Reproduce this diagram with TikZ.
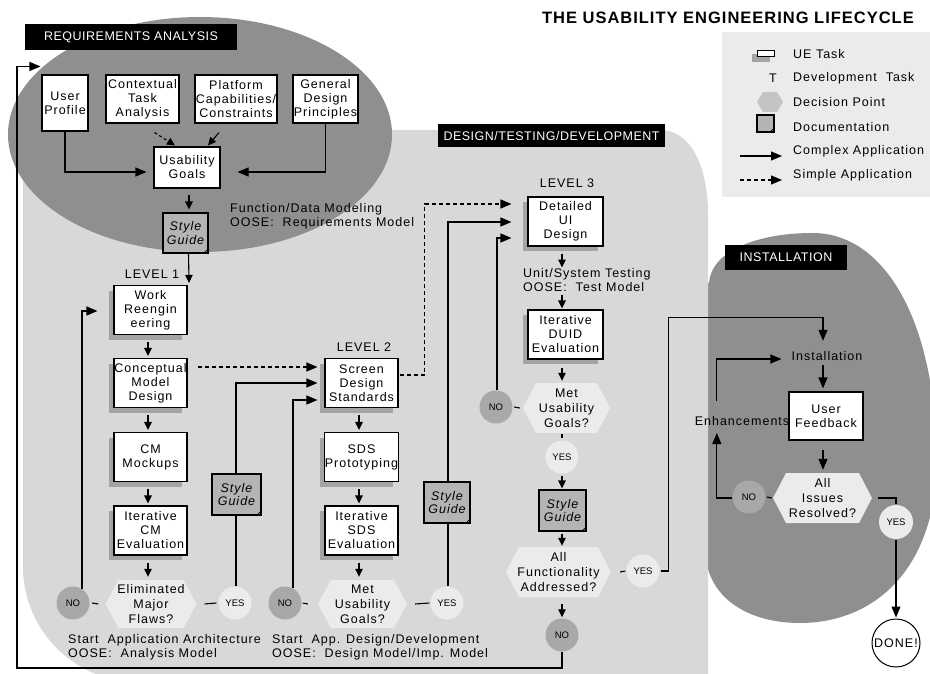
\documentclass[tikz,border=0pt]{standalone}
\usepackage{fontspec}
\setmainfont{Liberation Sans}
\newfontfamily\uefont[LetterSpace=8]{Liberation Sans}
\newfontfamily\headfont[LetterSpace=4]{Liberation Sans}
\newfontfamily\titlefont[LetterSpace=6]{Liberation Sans}
\usetikzlibrary{arrows.meta,calc}

\definecolor{regiondark}{HTML}{8F8F8F}
\definecolor{regionlight}{HTML}{D8D8D8}
\definecolor{hexfill}{HTML}{EBEBEB}
\definecolor{hexkey}{HTML}{C4C4C4}
\definecolor{nofill}{HTML}{A8A8A8}
\definecolor{yesfill}{HTML}{EBEBEB}
\definecolor{docfill}{HTML}{B4B4B4}
\definecolor{shadowc}{HTML}{A4A4A4}
\definecolor{legendbg}{HTML}{EBEBEB}

\pgfdeclarelayer{regions}
\pgfdeclarelayer{wires}
\pgfsetlayers{regions,wires,main}

\tikzset{
  hexcolor/.store in=\hexcol, hexcolor=hexfill,
  txt/.style={font=\uefont\fontsize{12.5}{14}\selectfont, inner sep=0pt, align=center},
  lefttxt/.style={txt, align=left, anchor=west},
  pairtxt/.style={lefttxt, font=\uefont\fontsize{12.5}{14}\selectfont},
  task/.style={txt, draw, fill=white, line width=1.1pt, minimum width=73pt, minimum height=49pt},
  shadowtask/.style={task, preaction={fill=shadowc, transform canvas={xshift=-5pt, yshift=-5pt}}},
  decision/.style={txt, font=\uefont\fontsize{12.5}{15}\selectfont,
    minimum width=90pt, minimum height=48pt,
    path picture={\fill[\hexcol] (path picture bounding box.west)
      -- ([xshift=#1]path picture bounding box.north west)
      -- ([xshift=-#1]path picture bounding box.north east)
      -- (path picture bounding box.east)
      -- ([xshift=-#1]path picture bounding box.south east)
      -- ([xshift=#1]path picture bounding box.south west) -- cycle;}},
  decision/.default=13pt,
  nocirc/.style={circle, fill=nofill, minimum size=33pt, inner sep=0pt, font=\fontsize{9.5}{10}\selectfont},
  yescirc/.style={nocirc, fill=yesfill},
  doc/.style={draw, fill=docfill, line width=1.1pt, minimum width=47pt, minimum height=41pt,
    inner sep=0pt, align=center, font=\uefont\itshape\fontsize{12.5}{13.5}\selectfont},
  fold/.style={line width=0.8pt},
  tag/.style={fill=black, text=white, inner sep=0pt, font=\headfont\fontsize{12.5}{14}\selectfont},
  link/.style={line width=1.1pt},
  flow/.style={link, -{Triangle[length=11pt, width=9pt]}},
  shortflow/.style={link, -{Triangle[length=8pt, width=7.5pt]}},
  simple/.style={flow, dash pattern=on 4pt off 3pt},
  shortsimple/.style={shortflow, dash pattern=on 3pt off 2.5pt},
}

\begin{document}
\begin{tikzpicture}[x=1pt, y=-1pt]
\useasboundingbox (0,0) rectangle (930,674);

\begin{pgfonlayer}{regions}
  \fill[white] (0,0) rectangle (930,674);
  % installation phase
  \fill[regiondark] (698,560) -- (698,283) -- (709,283)
     .. controls (711,252) and (755,233) .. (813,233)
     .. controls (875,233) and (925,300) .. (935,420)
     .. controls (950,560) and (880,623) .. (800,623)
     .. controls (750,623) and (712,600) .. (706,560) -- cycle;
  % design / testing / development phase
  \fill[regionlight] (23,160) -- (23,567)
     .. controls (23,630) and (75,682) .. (137,682)
     -- (708,682) -- (708,215)
     .. controls (708,165) and (690,130) .. (660,130)
     -- (60,130) .. controls (35,130) and (23,140) .. (23,160) -- cycle;
  % requirements analysis phase
  \fill[regiondark] (200,134.5) ellipse [x radius=192pt, y radius=117.5pt];
  % key background
  \fill[legendbg] (722,32) rectangle (935,197);
\end{pgfonlayer}

% headings
\node[anchor=east, font=\titlefont\bfseries\fontsize{16.5}{18}\selectfont, inner sep=0pt] (title) at (914,18) {THE USABILITY ENGINEERING LIFECYCLE};
\node[tag, minimum width=212pt, minimum height=26pt] (ratag) at (131,37) {REQUIREMENTS ANALYSIS};
\node[tag, minimum width=227pt, minimum height=23pt] (dtdtag) at (551.5,136) {DESIGN/TESTING/DEVELOPMENT};
\node[tag, minimum width=122pt, minimum height=25pt] (insttag) at (786,257.5) {INSTALLATION};

% requirements analysis
\node[task, minimum width=46pt, minimum height=56pt] (up) at (65,103) {User\\Profile};
\node[task, minimum width=73pt, minimum height=48pt] (cta) at (142.5,99) {Contextual\\Task\\Analysis};
\node[task, minimum width=82pt, minimum height=48pt] (pcc) at (236,99) {Platform\\Capabilities/\\Constraints};
\node[task, minimum width=65pt, minimum height=48pt] (gdp) at (325.5,99) {General\\Design\\Principles};
\node[task, minimum width=66pt, minimum height=41pt] (ug) at (187,167.5) {Usability\\Goals};
\node[doc, minimum width=45pt, minimum height=40pt] (sg0) at (185.5,233) {Style\\Guide};
\node[pairtxt, anchor=north west] (fdm) at (230,203) {Function/Data Modeling\\OOSE:\ \ Requirements Model};

% level 1
\node[txt] (lv1) at (152,274) {LEVEL 1};
\node[shadowtask] (wr) at (150.5,310) {Work\\Reengin\\eering};
\node[shadowtask] (cmd) at (150.5,383) {Conceptual\\Model\\Design};
\node[shadowtask] (cmm) at (150.5,457) {CM\\Mockups};
\node[shadowtask] (ice) at (150.5,530.5) {Iterative\\CM\\Evaluation};
\node[decision, minimum width=91pt] (hex1) at (151,604) {Eliminated\\Major\\Flaws?};
\node[nocirc] (no1) at (73,603) {NO};
\node[yescirc] (yes1) at (235,603) {YES};
\node[doc, minimum width=49pt] (sg1) at (236.5,494.5) {Style\\Guide};
\node[pairtxt] (saa) at (68,647.5) {Start\ \ Application Architecture\\OOSE:\ \ Analysis Model};

% level 2
\node[txt] (lv2) at (364,347) {LEVEL 2};
\node[shadowtask] (sds) at (361.5,383) {Screen\\Design\\Standards};
\node[shadowtask] (sdsp) at (361.5,457) {SDS\\Prototyping};
\node[shadowtask] (isds) at (361.5,530.5) {Iterative\\SDS\\Evaluation};
\node[decision, minimum width=89pt] (hex2) at (362.5,604) {Met\\Usability\\Goals?};
\node[nocirc] (no2) at (285,603) {NO};
\node[yescirc] (yes2) at (447,603) {YES};
\node[doc, minimum width=46pt] (sg2) at (447,502.5) {Style\\Guide};
\node[pairtxt] (sad) at (272,647.5) {Start\ \ App. Design/Development\\OOSE:\ \ Design Model/Imp. Model};

% level 3
\node[txt] (lv3) at (567,183) {LEVEL 3};
\node[shadowtask, minimum width=75pt] (dui) at (565.5,221.5) {Detailed\\UI\\Design};
\node[pairtxt] (uts) at (523,280.5) {Unit/System Testing\\OOSE:\ \ Test Model};
\node[shadowtask, minimum width=75pt] (iduid) at (565.5,334.5) {Iterative\\DUID\\Evaluation};
\node[decision, minimum width=87pt, minimum height=50pt] (hex3) at (566.5,408) {Met\\Usability\\Goals?};
\node[nocirc] (no3) at (496,407) {NO};
\node[yescirc] (yes3) at (562,457) {YES};
\node[doc] (sg3) at (562.5,510.5) {Style\\Guide};
\node[decision, minimum width=105pt, minimum height=50pt] (hex4) at (558.5,572) {All\\Functionality\\Addressed?};
\node[yescirc] (yes4) at (643,571) {YES};
\node[nocirc] (no4) at (562,635) {NO};

% installation
\node[txt, minimum width=70pt, minimum height=14pt] (inst) at (827,356) {Installation};
\node[txt] (enh) at (742,421) {Enhancements};
\node[task, minimum width=74pt, minimum height=48pt] (uf) at (826,416) {User\\Feedback};
\node[decision, minimum width=99pt, minimum height=50pt] (hex5) at (822.5,498) {All\\Issues\\Resolved?};
\node[nocirc] (no5) at (749,497) {NO};
\node[yescirc, minimum size=34pt] (yes5) at (896,522) {YES};
\node[circle, draw, fill=white, line width=1pt, minimum size=48pt, inner sep=0pt,
      font=\uefont\fontsize{12.5}{14}\selectfont] (done) at (896,643) {DONE!};

% key
\node[fill=shadowc, minimum width=18pt, minimum height=8pt, inner sep=0pt] (keyshadow) at (761,58) {};
\node[draw, fill=white, line width=1pt, minimum width=17pt, minimum height=6pt, inner sep=0pt] (keytask) at (765.5,54) {};
\node[txt] (keyt) at (773,78) {T};
\node[decision=6pt, hexcolor=hexkey, minimum width=26pt, minimum height=20pt] (keyhex) at (770,102) {};
\node[doc, minimum width=17pt, minimum height=17pt] (keydoc) at (765.5,123.5) {};
\coordinate (keyc1) at (740,156);
\coordinate (keyc2) at (782,156);
\coordinate (keys1) at (740,180);
\coordinate (keys2) at (782,180);
\node[lefttxt] (keyl1) at (793,54) {UE Task};
\node[lefttxt] (keyl2) at (793,78) {Development\ \ Task};
\node[lefttxt] (keyl3) at (793,102) {Decision Point};
\node[lefttxt] (keyl4) at (793,127) {Documentation};
\node[lefttxt] (keyl5) at (793,151) {Complex Application};
\node[lefttxt] (keyl6) at (793,175) {Simple Application};

% document page folds
\foreach \d in {sg0,sg1,sg2,sg3,keydoc}
  \draw[fold] ([xshift=-5pt]\d.south east) -- ([yshift=5pt]\d.south east);

\begin{pgfonlayer}{wires}
  % requirements analysis
  \draw[flow] (up.south) |- ($(ug.west)+(-7,4.5)$);
  \draw[flow] (gdp.south) |- ($(ug.east)+(17,4.5)$);
  \draw[shortsimple] ($(cta.south)+(12,9)$) -- ($(ug.north)+(-12,-1)$);
  \draw[shortflow] ($(pcc.south)+(-17,9)$) -- ($(ug.north)+(21,-1)$);
  \draw[shortflow] ($(ug.south)+(2,6)$) -- ($(sg0.north)+(3.5,-3)$);
  \draw[shortflow] ($(sg0.south)+(3,0)$) -- ($(wr.north east)+(1.5,-2)$);

  % level 1 chain
  \foreach \a/\b in {wr/cmd, cmd/cmm, cmm/ice}
    \draw[shortflow] ($(\a.south)+(-2.5,7)$) -- ($(\b.north)+(-2.5,-2)$);
  \draw[shortflow] ($(ice.south)+(-2.5,7)$) -- ($(hex1.north)+(-3,-3)$);
  \draw[link] ($(no1.east)+(2.5,0)$) -- ($(hex1.west)+(-7,0)$);
  \draw[link] ($(hex1.east)+(8,0)$) -- ($(yes1.west)+(-2,0)$);
  \draw[flow] ($(no1.center)+(9,-14)$) |- ($(wr.west)+(-16,1)$);
  \draw[flow] ($(yes1.north)+(1,0)$) |- ($(sds.west)+(-7,0)$);
  \draw[simple] ($(cmd.east)+(10,-16)$) -- ($(sds.west)+(-7,-16)$);

  % level 2 chain
  \foreach \a/\b in {sds/sdsp, sdsp/isds}
    \draw[shortflow] ($(\a.south)+(-2.5,7)$) -- ($(\b.north)+(-2.5,-2)$);
  \draw[shortflow] ($(isds.south)+(-2.5,7)$) -- ($(hex2.north)+(-3.5,-3)$);
  \draw[link] ($(no2.east)+(1,0)$) -- ($(hex2.west)+(-10,0)$);
  \draw[link] ($(hex2.east)+(8,0)$) -- ($(yes2.west)+(-1,0)$);
  \draw[flow] ($(no2.center)+(8,-15)$) |- ($(sds.west)+(-7,17)$);
  \draw[simple] ($(sds.east)+(1,-8)$) -- ++(25,0) |- ($(dui.west)+(-16,-17.5)$);
  \draw[flow] ($(yes2.north)+(1,0)$) |- ($(dui.west)+(-16,0.5)$);

  % level 3 chain
  \draw[shortflow] ($(dui.south)+(-3.5,7)$) -- ($(dui.south)+(-3.5,21)$);
  \draw[shortflow] ($(iduid.north)+(-3.5,-14)$) -- ($(iduid.north)+(-3.5,-1)$);
  \draw[shortflow] ($(iduid.south)+(-3.5,8)$) -- ($(hex3.north)+(-4.5,-2)$);
  \draw[link] ($(no3.east)+(1.5,0)$) -- ($(hex3.west)+(-3,0)$);
  \draw[flow] ($(no3.north)+(1,0)$) |- ($(dui.west)+(-16,16.5)$);
  \draw[link] ($(hex3.south)+(-4.5,1)$) -- ($(yes3.north)+(0,-2)$);
  \draw[shortflow] ($(yes3.south)+(0,2)$) -- ($(sg3.north)+(-0.5,-1)$);
  \draw[shortflow] ($(sg3.south)+(-0.5,2)$) -- ($(hex4.north)+(3.5,-1)$);
  \draw[link] ($(hex4.east)+(9,0)$) -- ($(yes4.west)+(-1,0)$);
  \draw[shortflow] ($(hex4.south)+(3.5,7)$) -- ($(no4.north)+(0,-1)$);
  \draw[flow] ($(yes4.east)+(1,0)$) -- ++(7.5,0) |- ($(inst.north)+(-4,-31)$) -- ($(inst.north)+(-4,-8)$);

  % back to requirements analysis
  \coordinate (loopbl) at (17,668);
  \draw[flow] (no4.south) |- (loopbl) |- ($(up.north west)+(-1,-8)$);

  % installation
  \draw[flow] ($(inst.south)+(-4,2)$) -- ($(uf.north)+(-3,-3)$);
  \draw[flow] ($(uf.south)+(-3,9)$) -- ($(hex5.north)+(0.5,-3)$);
  \draw[link] ($(no5.east)+(1,0)$) -- ($(hex5.west)+(-1,0)$);
  \draw[flow] ($(no5.west)+(0,1)$) -| ($(no5.west)+(-15.5,-64)$);
  \draw[flow] ($(no5.west)+(-15.5,-96)$) |- ($(inst.west)+(-10,3)$);
  \draw[link] ($(hex5.east)+(5.5,0)$) -| ($(yes5.north)+(0,-1)$);
  \draw[flow] ($(yes5.south)+(0,1)$) -- ($(done.north)+(0,-1)$);

  % key arrows
  \draw[flow] (keyc1) -- (keyc2);
  \draw[simple] (keys1) -- (keys2);
\end{pgfonlayer}
\end{tikzpicture}
\end{document}
